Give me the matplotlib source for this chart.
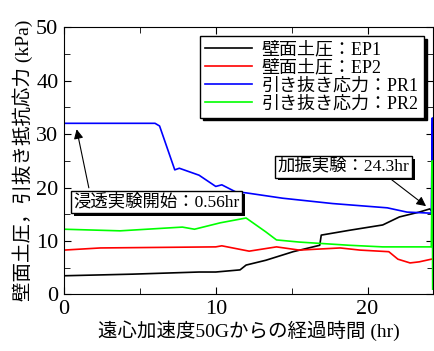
import matplotlib
matplotlib.use("Agg")
import matplotlib.pyplot as plt
import matplotlib.patheffects as pe
from matplotlib.ticker import MultipleLocator

plt.rcParams['font.family'] = ['Liberation Serif', 'Noto Sans CJK JP']

# data (time in hr, pressure in kPa)
t_ep1 = [0, 4.5, 8.9, 10, 11.6, 12, 13.3, 15.1, 16.85, 16.95, 18.8, 21, 22.1, 23.4, 24.1, 24.25]
ep1 = [3.5, 3.8, 4.2, 4.2, 4.6, 5.5, 6.4, 8.0, 9.2, 11.1, 12, 13, 14.5, 15.4, 16, 15.5]

t_ep2 = [0, 2.4, 10, 10.4, 12.2, 14, 15.5, 18.2, 19.5, 21.4, 22, 22.8, 23.4, 24.2]
ep2 = [8.3, 8.7, 8.9, 9.1, 8.1, 8.9, 8.3, 8.7, 8.3, 8.0, 6.6, 5.9, 6.1, 6.6]

t_pr1 = [0, 6.0, 6.3, 7.3, 7.6, 8.9, 10, 10.4, 11.3, 12, 14.4, 17.7, 21.3, 22.6, 24.2, 24.27, 24.29]
pr1 = [32, 32, 31.5, 23.3, 23.6, 22.3, 20.2, 20.5, 19.2, 19, 18, 17, 16.2, 15.4, 15.2, 33, 15]

t_pr2 = [0, 3.7, 7.8, 8.6, 10.3, 12, 13.3, 14, 15.5, 18.8, 21, 24.2, 24.27, 24.29]
pr2 = [12.2, 11.9, 12.6, 12.2, 13.4, 14.3, 11.7, 10.2, 9.8, 9.2, 8.9, 8.9, 25, 1]

labels = ['壁面土圧：EP1', '壁面土圧：EP2', '引き抜き応力：PR1', '引き抜き応力：PR2']
colors = ['#000000', '#ff0000', '#0000ff', '#00ff00']

fig = plt.figure(figsize=(4.35, 3.51), dpi=100)
ax = fig.add_axes([0.147, 0.161, 0.848, 0.762])

for t, v, lab, c in zip([t_ep1, t_ep2, t_pr1, t_pr2], [ep1, ep2, pr1, pr2], labels, colors):
    ax.plot(t, v, color=c, lw=1.2, label=lab)

ax.set_xlim(0, 24.3)
ax.set_ylim(0, 50)
ax.xaxis.set_major_locator(MultipleLocator(10))
ax.xaxis.set_minor_locator(MultipleLocator(5))
ax.yaxis.set_major_locator(MultipleLocator(10))
ax.yaxis.set_minor_locator(MultipleLocator(5))
ax.tick_params(which='both', direction='in', top=True, right=True, labelsize=16, pad=4)
ax.tick_params(which='major', length=5)
ax.tick_params(which='minor', length=4)

ax.set_xlabel('遠心加速度50Gからの経過時間 (hr)', fontsize=14, labelpad=1)
ax.set_ylabel('壁面土圧，引抜き抵抗応力 (kPa)', fontsize=14, labelpad=2)

leg = ax.legend(loc='upper right', fontsize=13, frameon=True, fancybox=False,
                shadow={'color': 'black', 'alpha': 1}, borderaxespad=0.5,
                handlelength=2.6, handletextpad=0.5, labelspacing=0.05, borderpad=0.3)
leg.get_frame().set_edgecolor('black')
leg.get_frame().set_linewidth(1.0)

shadow = [pe.SimplePatchShadow(offset=(2, -2), shadow_rgbFace='k', alpha=1), pe.Normal()]

a1 = ax.annotate('浸透実験開始：0.56hr', xy=(0.8, 31.4), xytext=(6.1, 17.3),
                 fontsize=12.5, ha='center', va='center',
                 bbox=dict(boxstyle='square,pad=0.15', fc='white', ec='black', lw=1),
                 arrowprops=dict(arrowstyle='-|>', color='k', lw=0.8,
                                 mutation_scale=14, relpos=(0.1, 1.0)))
a1.get_bbox_patch().set_path_effects(shadow)

a2 = ax.annotate('加振実験：24.3hr', xy=(24.0, 16.2), xytext=(18.4, 23.9),
                 fontsize=12.5, ha='center', va='center',
                 bbox=dict(boxstyle='square,pad=0.15', fc='white', ec='black', lw=1),
                 arrowprops=dict(arrowstyle='-|>', color='k', lw=0.8,
                                 mutation_scale=14, relpos=(0.82, 0.0)))
a2.get_bbox_patch().set_path_effects(shadow)

fig.savefig('out.png', dpi=100)
